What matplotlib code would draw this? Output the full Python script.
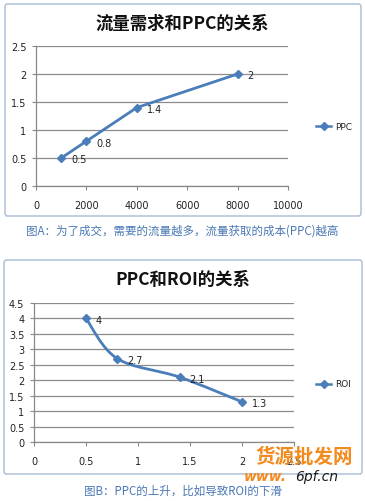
import numpy as np
import matplotlib
matplotlib.use("Agg")
import matplotlib.pyplot as plt
from matplotlib.path import Path
from matplotlib.patches import PathPatch, FancyBboxPatch

plt.rcParams['font.family'] = ['DejaVu Sans', 'Noto Sans CJK SC']

# chart A: traffic demand vs PPC
a_title = "流量需求和PPC的关系"
a_x = [1000, 2000, 4000, 8000]
a_y = [0.5, 0.8, 1.4, 2.0]
a_labels = ["0.5", "0.8", "1.4", "2"]
a_series = "PPC"
a_xticks = [0, 2000, 4000, 6000, 8000, 10000]
a_yticks = [0, 0.5, 1, 1.5, 2, 2.5]
a_caption = "图A：为了成交，需要的流量越多，流量获取的成本(PPC)越高"

# chart B: PPC vs ROI
b_title = "PPC和ROI的关系"
b_x = [0.5, 0.8, 1.4, 2.0]
b_y = [4.0, 2.7, 2.1, 1.3]
b_labels = ["4", "2.7", "2.1", "1.3"]
b_series = "ROI"
b_xticks = [0, 0.5, 1, 1.5, 2, 2.5]
b_yticks = [0, 0.5, 1, 1.5, 2, 2.5, 3, 3.5, 4, 4.5]
b_caption = "图B：PPC的上升，比如导致ROI的下滑"

W, H = 365, 502
BLUE = "#4a7ebb"
CJK = ['Noto Sans CJK SC', 'DejaVu Sans']

fig = plt.figure(figsize=(W / 100, H / 100), dpi=100)


def fx(px):
    return px / W


def fy(py):
    return 1 - py / H


def fmt(v):
    return "{:g}".format(v)


def smooth_path(xs, ys):
    # excel-style smoothed line: bezier through every point
    pts = np.column_stack([xs, ys])
    verts = [pts[0]]
    codes = [Path.MOVETO]
    n = len(pts)
    for i in range(n - 1):
        p0 = pts[max(i - 1, 0)]
        p1 = pts[i]
        p2 = pts[i + 1]
        p3 = pts[min(i + 2, n - 1)]
        c1 = p1 + (p2 - p0) / 6
        c2 = p2 - (p3 - p1) / 6
        verts += [c1, c2, p2]
        codes += [Path.CURVE4] * 3
    return Path(verts, codes)


def panel(box, axrect, title, title_y, xs, ys, labels, series, xticks, yticks,
          caption, cap_y, legend_y, smooth=False):
    bx0, by0, bx1, by1 = box
    fig.patches.append(FancyBboxPatch(
        (fx(bx0), fy(by1)), fx(bx1 - bx0), (by1 - by0) / H,
        boxstyle="round,pad=0,rounding_size=0.006", transform=fig.transFigure,
        facecolor="none", edgecolor="#a7bcd3", lw=1.0))
    l, t, r, b = axrect
    ax = fig.add_axes([fx(l), fy(b), fx(r - l), (b - t) / H])
    ax.set_xlim(xticks[0], xticks[-1])
    ax.set_ylim(yticks[0], yticks[-1])
    ax.set_xticks(xticks)
    ax.set_yticks(yticks)
    ax.set_xticklabels([fmt(v) for v in xticks])
    ax.set_yticklabels([fmt(v) for v in yticks])
    ax.tick_params(labelsize=7, colors="#222222", length=3, width=0.8,
                   direction="out")
    ax.tick_params(axis="x", pad=7, color="#888888")
    ax.tick_params(axis="y", pad=4, color="#888888")
    for s in ["top", "right"]:
        ax.spines[s].set_visible(False)
    for s in ["left", "bottom"]:
        ax.spines[s].set_color("#888888")
        ax.spines[s].set_linewidth(0.9)
    ax.set_facecolor("none")
    ax.grid(axis="y", color="#8c8c8c", lw=0.9)
    ax.set_axisbelow(True)
    if smooth:
        ax.add_patch(PathPatch(smooth_path(xs, ys), facecolor="none",
                               edgecolor=BLUE, lw=2.0, zorder=3))
        ax.plot(xs, ys, ls="none", marker="D", ms=4.5, color=BLUE, zorder=4,
                clip_on=False)
    else:
        ax.plot(xs, ys, color=BLUE, lw=2.0, marker="D", ms=4.5, zorder=3,
                clip_on=False)
    for x, y, lab in zip(xs, ys, labels):
        ax.annotate(lab, (x, y), xytext=(7, -1), textcoords="offset points",
                    ha="left", va="center", fontsize=7, color="#222222")
    # legend
    fig.lines.append(plt.Line2D([fx(316), fx(331)], [fy(legend_y)] * 2,
                                transform=fig.transFigure, color=BLUE, lw=1.8))
    fig.lines.append(plt.Line2D([fx(323.5)], [fy(legend_y)],
                                transform=fig.transFigure, color=BLUE,
                                marker="D", ms=3.8, ls="none"))
    fig.text(fx(335), fy(legend_y), series, fontsize=6.5, color="#222222",
             ha="left", va="center")
    fig.text(0.5, fy(title_y), title, family=CJK, fontweight="bold",
             fontsize=12.5, color="#111111", ha="center", va="center")
    fig.text(0.5, fy(cap_y), caption, family=CJK, fontsize=8.3,
             color="#4a78b5", ha="center", va="center")
    return ax


panel((5, 5, 361, 217), (36, 47, 288, 187), a_title, 24, a_x, a_y, a_labels,
      a_series, a_xticks, a_yticks, a_caption, 231, 127)
panel((4, 261, 362, 475), (34, 304, 294, 443), b_title, 280, b_x, b_y,
      b_labels, b_series, b_xticks, b_yticks, b_caption, 491, 385,
      smooth=True)

# watermark
fig.text(fx(304), fy(457), "货源批发网", family=CJK, fontsize=14,
         color="#f28a1e", ha="center", va="center", fontweight="bold",
         zorder=10)
fig.text(fx(287), fy(477), "www.", fontsize=10, color="#f28a1e",
         ha="right", va="center", style="italic", fontweight="bold",
         zorder=10)
fig.text(fx(295), fy(477), "6pf.cn", fontsize=10, color="#1a1a1a",
         ha="left", va="center", style="italic", zorder=10)

fig.savefig("out.png", dpi=100)
